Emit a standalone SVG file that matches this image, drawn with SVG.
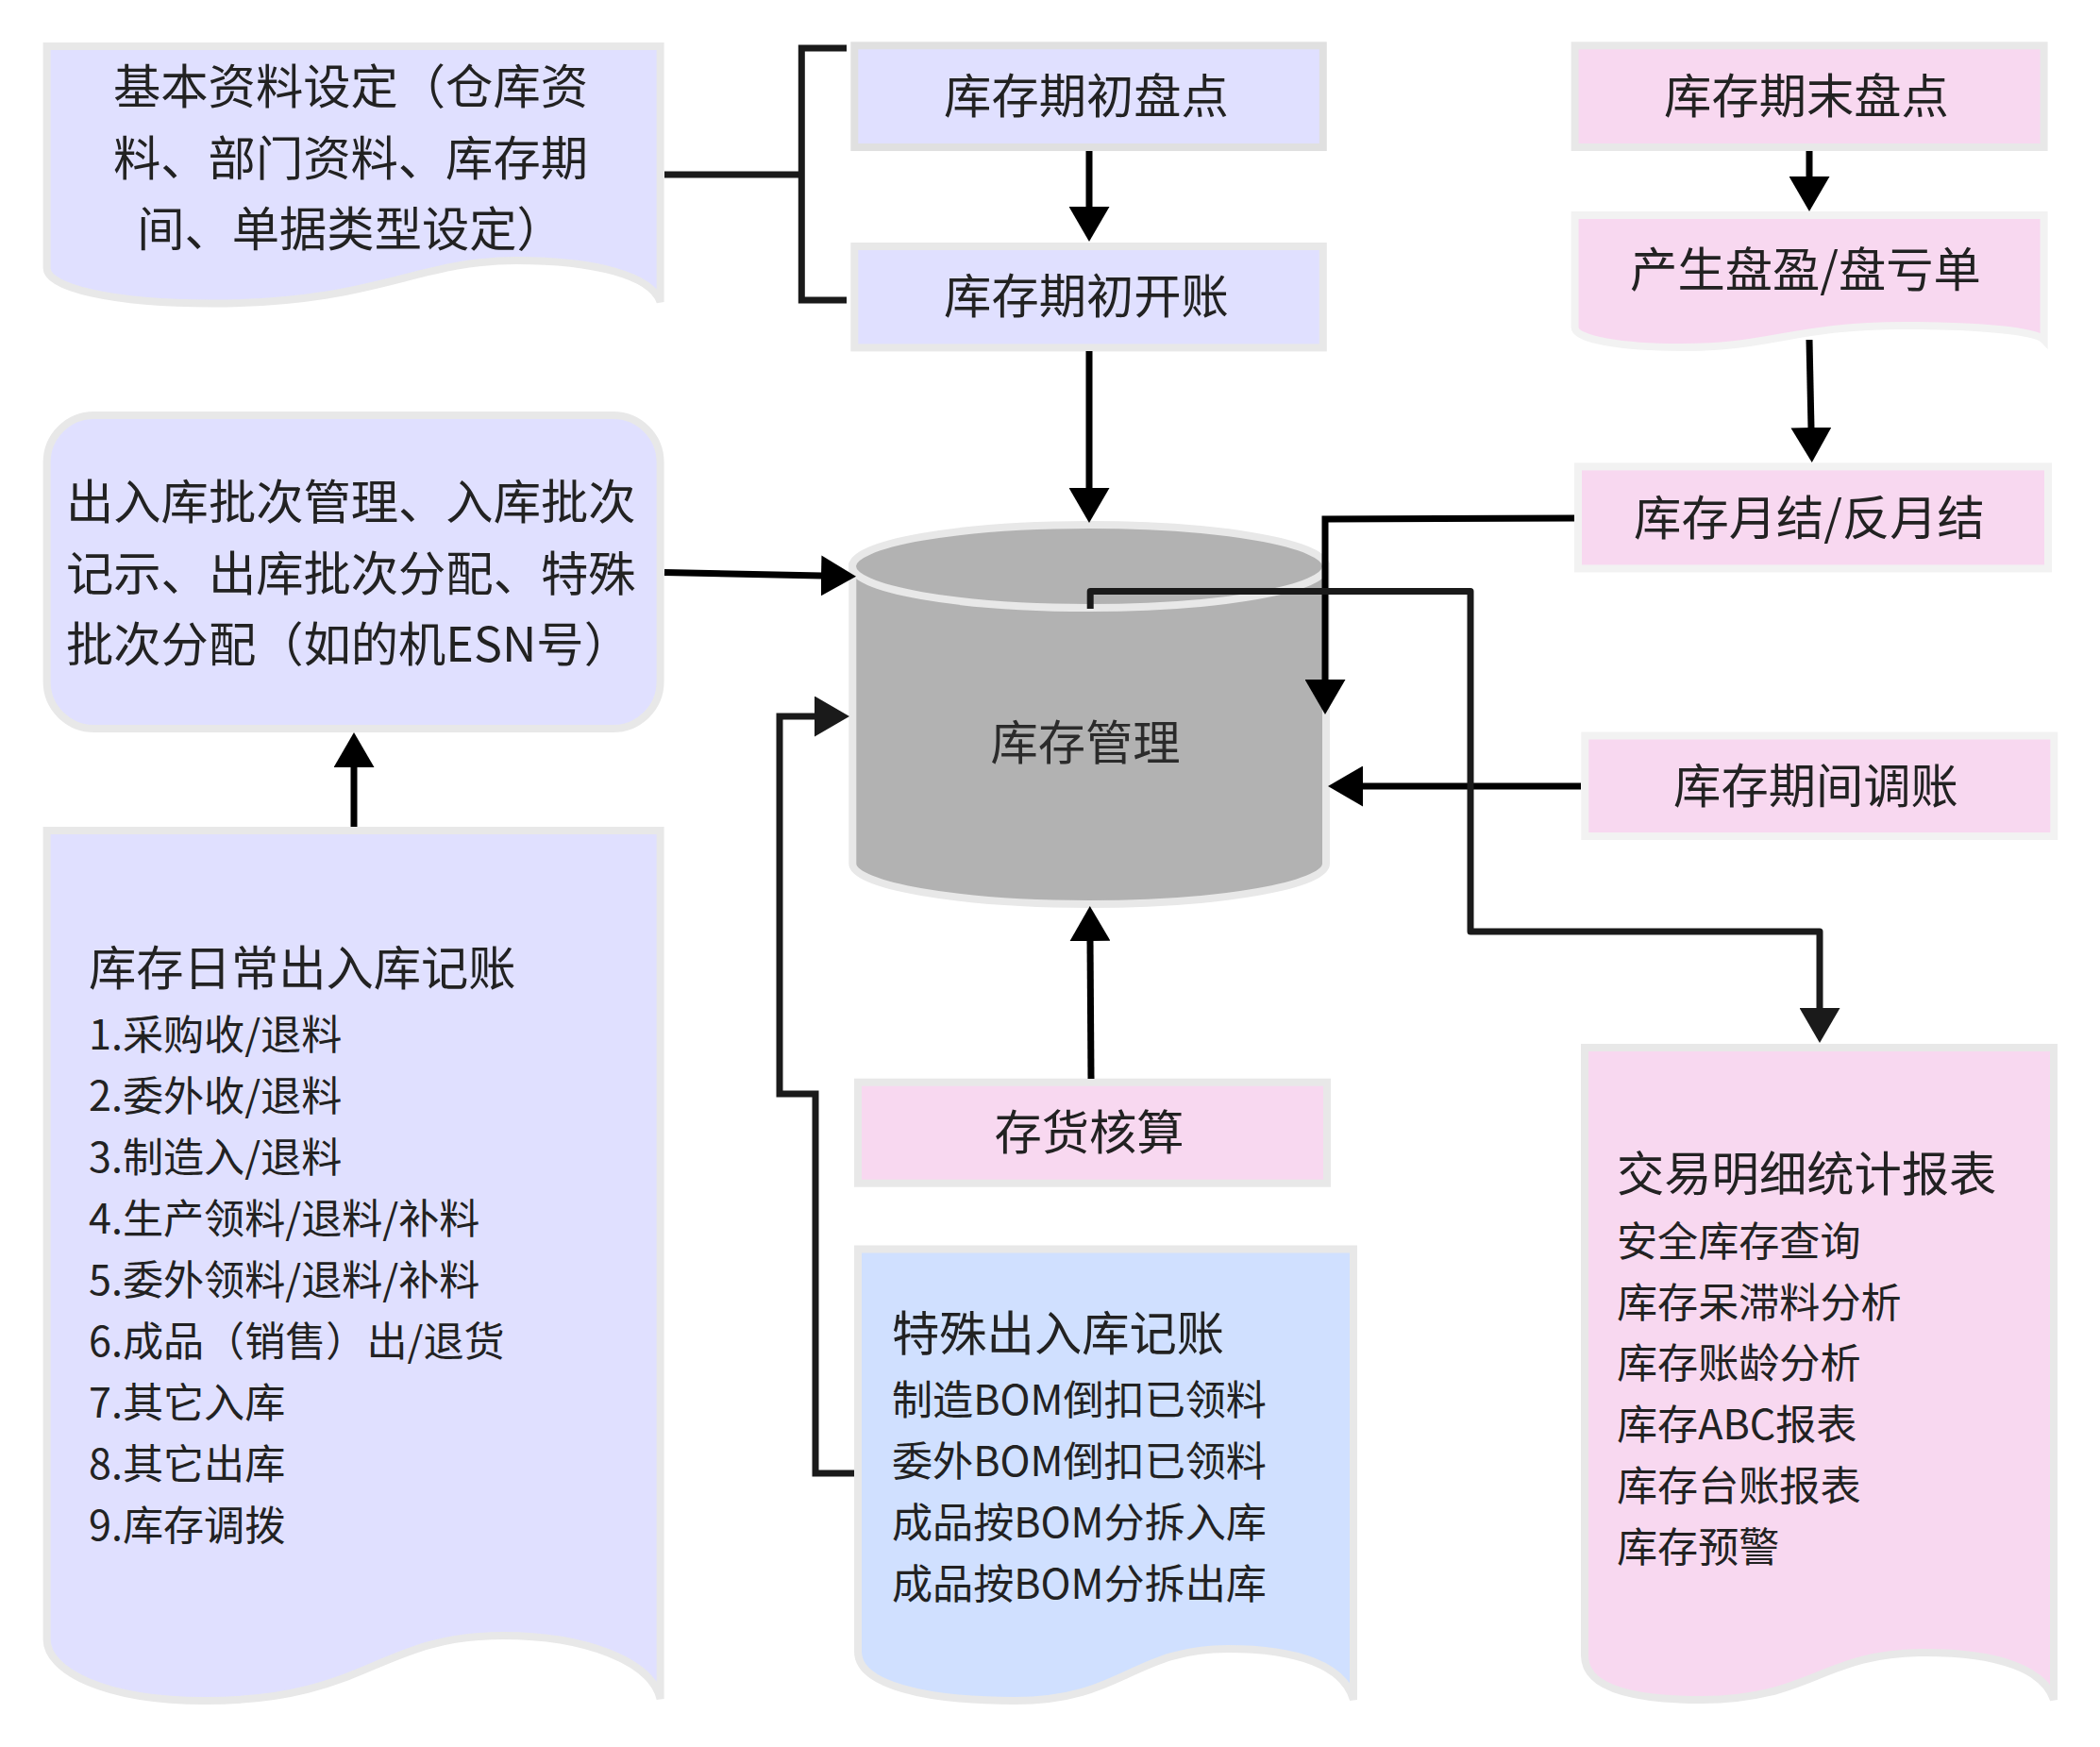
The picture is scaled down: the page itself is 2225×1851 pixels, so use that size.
<svg xmlns="http://www.w3.org/2000/svg" width="2225" height="1851" viewBox="0 0 2225 1851">
<style>
text{font-family:"Noto Sans CJK SC","Noto Sans",sans-serif;fill:#222;font-size:50.300px}
.m{text-anchor:middle}
.s{font-size:43.100px}
.lav{fill:#e0e0ff}.pink{fill:#f8d8f0}.blue{fill:#d0e0ff}.gray{fill:#b2b2b2}
.n{stroke:#e8e8e8;stroke-width:8}
.l{stroke:#f2f2f2;stroke-width:8}
.d{stroke:#e0e0e0;stroke-width:8}
.c{fill:none;stroke:#000;stroke-width:7}
.g{fill:none;stroke:#1a1a1a;stroke-width:7}
.a{marker-end:url(#ah)}
.b{marker-end:url(#ag)}
</style>
<defs>
<marker id="ah" markerUnits="userSpaceOnUse" markerWidth="37" markerHeight="43" viewBox="0 0 37 43" refX="1" refY="21.500" orient="auto"><path d="M0 0L37 21.500L0 43Z" fill="#000"/></marker>
<marker id="ag" markerUnits="userSpaceOnUse" markerWidth="37" markerHeight="43" viewBox="0 0 37 43" refX="1" refY="21.500" orient="auto"><path d="M0 0L37 21.500L0 43Z" fill="#1a1a1a"/></marker>
</defs>
<rect width="2225" height="1851" fill="#fff"/>
<g id="node-basic"><path class="lav n" d="M49.600 49H699.600V320C690 292 630 276 547 276C440 276 400 321.500 224 321.500C120 321.500 49.600 305 49.600 284Z"/>
<text class="m" x="371.500" y="110">基本资料设定（仓库资</text><text class="m" x="371.500" y="186">料、部门资料、库存期</text><text class="m" x="371.500" y="261">间、单据类型设定）</text></g>
<g id="node-opening-count"><rect class="lav d" x="905.300" y="48.300" width="496.500" height="107.700"/><text class="m" x="1151" y="120">库存期初盘点</text></g>
<g id="node-opening-account"><rect class="lav n" x="905.300" y="261" width="496.500" height="107.400"/><text class="m" x="1151" y="332">库存期初开账</text></g>
<g id="node-closing-count"><rect class="pink n" x="1668.600" y="48.300" width="497" height="107.700"/><text class="m" x="1914" y="120">库存期末盘点</text></g>
<g id="node-diff"><path class="pink l" d="M1668.600 228H2165.600V360C2156 350 2090 345 2018 345C1900 345 1880 368 1781 368C1720 368 1668.600 360 1668.600 347Z"/><text class="m" x="1913" y="304">产生盘盈/盘亏单</text></g>
<g id="node-month"><rect class="pink l" x="1672" y="494.400" width="498" height="108"/><text class="m" x="1917" y="567">库存月结/反月结</text></g>
<g id="node-adjust"><rect class="pink l" x="1679.300" y="779.500" width="497" height="106.500"/><text class="m" x="1924" y="851">库存期间调账</text></g>
<g id="node-batch"><rect class="lav n" x="49.600" y="440" width="650" height="332" rx="50"/>
<text x="70" y="550">出入库批次管理、入库批次</text><text x="70" y="626">记示、出库批次分配、特殊</text><text x="70" y="701">批次分配（如的机ESN号）</text></g>
<g id="node-stock"><path class="gray n" d="M903.300 600V915C903.300 938 1015 958 1154 958C1293 958 1405 938 1405 915V600Z"/><ellipse class="gray n" cx="1154" cy="600" rx="251" ry="44"/><text class="m" x="1150" y="805" style="fill:#2b2b2b">库存管理</text></g>
<g id="node-daily"><path class="lav n" d="M49.600 880H699.600V1800C690 1760 620 1733 533 1733C400 1733 390 1802 217 1802C110 1802 49.600 1770 49.600 1737Z"/>
<text x="94" y="1044">库存日常出入库记账</text>
<text class="s" x="94" y="1112">1.采购收/退料</text><text class="s" x="94" y="1177">2.委外收/退料</text><text class="s" x="94" y="1242">3.制造入/退料</text><text class="s" x="94" y="1307">4.生产领料/退料/补料</text><text class="s" x="94" y="1372">5.委外领料/退料/补料</text><text class="s" x="94" y="1437">6.成品（销售）出/退货</text><text class="s" x="94" y="1502">7.其它入库</text><text class="s" x="94" y="1567">8.其它出库</text><text class="s" x="94" y="1632">9.库存调拨</text></g>
<g id="node-cost"><rect class="pink n" x="909" y="1146.700" width="497" height="107"/><text class="m" x="1154" y="1218">存货核算</text></g>
<g id="node-special"><path class="blue n" d="M909 1323.600H1434V1801C1424 1765 1375 1747 1301 1747C1200 1747 1190 1802 1075 1802C980 1802 909 1785 909 1750Z"/>
<text x="945" y="1431">特殊出入库记账</text>
<text class="s" x="945" y="1499">制造BOM倒扣已领料</text><text class="s" x="945" y="1564">委外BOM倒扣已领料</text><text class="s" x="945" y="1629">成品按BOM分拆入库</text><text class="s" x="945" y="1694">成品按BOM分拆出库</text></g>
<g id="node-report"><path class="pink n" d="M1679 1110H2176V1801C2166 1770 2120 1751 2040 1751C1930 1751 1920 1801 1803 1801C1720 1801 1679 1785 1679 1754Z"/>
<text x="1713" y="1262">交易明细统计报表</text>
<text class="s" x="1713" y="1331">安全库存查询</text><text class="s" x="1713" y="1396">库存呆滞料分析</text><text class="s" x="1713" y="1460">库存账龄分析</text><text class="s" x="1713" y="1525">库存ABC报表</text><text class="s" x="1713" y="1590">库存台账报表</text><text class="s" x="1713" y="1655">库存预警</text></g>
<g id="connectors">
<path class="g" d="M704 185H849"/>
<path class="g" d="M897 51H849.300V318H897"/>
<path class="c a" d="M1154 160V220"/>
<path class="c a" d="M1154 372V518"/>
<path class="c a" d="M1917 160V188"/>
<path class="c a" d="M1917 360L1919 454"/>
<path class="c a" d="M1668 549L1404 550V721"/>
<path class="c a" d="M1675 833H1443"/>
<path class="g b" d="M1155.200 645V626.500H1558V987H1928V1069" stroke-linejoin="round"/>
<path class="c a" d="M1156 1143L1155 996"/>
<path class="g b" d="M905 1561H864V1159H826V759H864"/>
<path class="c a" d="M704 606.500L871 610"/>
<path class="c a" d="M375 876V812"/>
</g>
</svg>
